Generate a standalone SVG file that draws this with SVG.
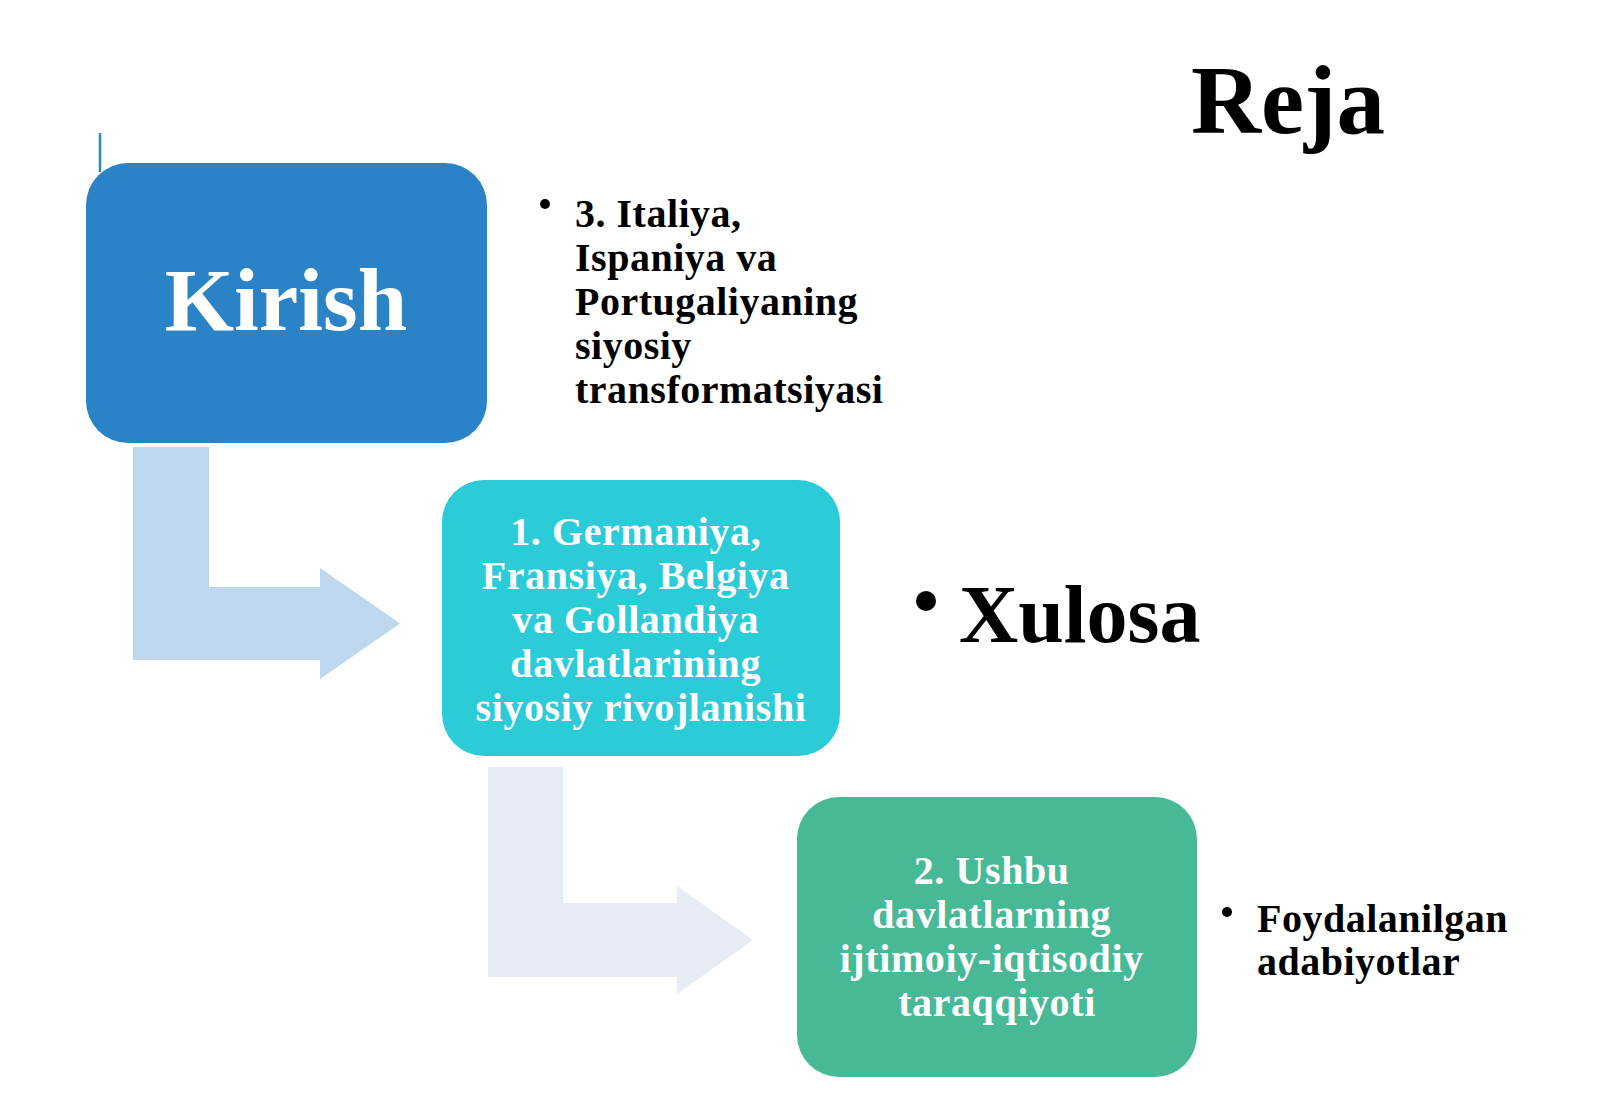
<svg xmlns="http://www.w3.org/2000/svg" width="1600" height="1107" viewBox="0 0 1600 1107">
<style>
.t{font-family:"Liberation Serif","Times New Roman",serif;font-weight:bold}
.w{fill:#ffffff;text-anchor:middle}
.k{fill:#000000}
</style>
<rect x="0" y="0" width="1600" height="1107" fill="#ffffff"/>
<line x1="100" y1="133" x2="100" y2="172" stroke="#2A8AC8" stroke-width="2.5"/>
<g id="connectors">
<polygon points="133,447 209,447 209,587 320,587 320,568 400,623.5 320,679 320,660 133,660" fill="#BDD8EE"/>
<polygon points="488,767 563,767 563,903 677,903 677,886 753,940 677,994 677,977 488,977" fill="#E6EBF4"/>
</g>
<g id="kirish">
<rect x="86" y="163" width="401" height="280" rx="42" fill="#2A83C7"/>
<text class="t w" x="286" y="330" font-size="89">Kirish</text>
</g>
<g id="item1">
<rect x="442" y="480" width="398" height="276" rx="42" fill="#2BCBD8"/>
<text class="t w" font-size="40" letter-spacing="0.6">
<tspan x="641" y="545">1. Germaniya,</tspan>
<tspan x="641" y="589">Fransiya, Belgiya</tspan>
<tspan x="641" y="633">va Gollandiya</tspan>
<tspan x="641" y="677">davlatlarining</tspan>
<tspan x="641" y="721">siyosiy rivojlanishi</tspan>
</text>
</g>
<g id="item2">
<rect x="797" y="797" width="400" height="280" rx="42" fill="#48B996"/>
<text class="t w" font-size="40" letter-spacing="0.6">
<tspan x="997" y="884">2. Ushbu</tspan>
<tspan x="997" y="928">davlatlarning</tspan>
<tspan x="997" y="972">ijtimoiy-iqtisodiy</tspan>
<tspan x="997" y="1016">taraqqiyoti</tspan>
</text>
</g>
<g id="item3">
<circle cx="545" cy="204" r="5" fill="#000"/>
<text class="t k" font-size="40" letter-spacing="0.5">
<tspan x="575" y="227">3. Italiya,</tspan>
<tspan x="575" y="271">Ispaniya va</tspan>
<tspan x="575" y="315">Portugaliyaning</tspan>
<tspan x="575" y="359">siyosiy</tspan>
<tspan x="575" y="403">transformatsiyasi</tspan>
</text>
</g>
<g id="reja">
<text class="t k" x="1191" y="133" font-size="97">Reja</text>
</g>
<g id="xulosa">
<circle cx="926" cy="601" r="10" fill="#000"/>
<text class="t k" x="959" y="642" font-size="82">Xulosa</text>
</g>
<g id="foydalanilgan">
<circle cx="1227" cy="912" r="5" fill="#000"/>
<text class="t k" font-size="40" letter-spacing="0.5">
<tspan x="1257" y="932">Foydalanilgan</tspan>
<tspan x="1257" y="975">adabiyotlar</tspan>
</text>
</g>
</svg>
